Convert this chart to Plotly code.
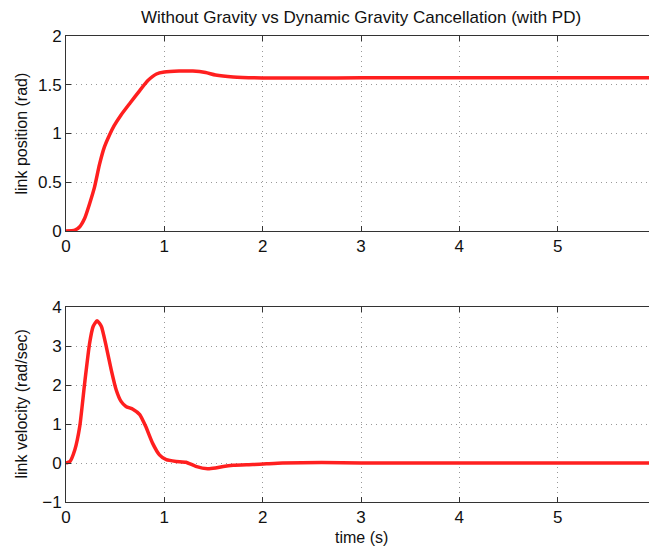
import plotly.graph_objects as go
from plotly.subplots import make_subplots

# Position data (time in s, position in rad)
t_pos = [0, 0.09, 0.14, 0.19, 0.24, 0.29, 0.34, 0.39, 0.44, 0.49, 0.56, 0.65, 0.75, 0.83, 0.92, 1.0, 1.15, 1.29, 1.42, 1.52, 1.7, 2.0, 2.5, 3.0, 4.0, 5.0, 6.0]
pos = [0, 0.01, 0.044, 0.13, 0.28, 0.45, 0.68, 0.86, 0.98, 1.08, 1.19, 1.31, 1.44, 1.54, 1.61, 1.63, 1.64, 1.64, 1.625, 1.60, 1.58, 1.57, 1.568, 1.571, 1.571, 1.571, 1.571]

# Velocity data (time in s, velocity in rad/sec)
t_vel = [0, 0.04, 0.09, 0.14, 0.19, 0.24, 0.276, 0.316, 0.36, 0.41, 0.46, 0.51, 0.56, 0.61, 0.68, 0.75, 0.81, 0.88, 0.95, 1.02, 1.12, 1.22, 1.32, 1.44, 1.52, 1.6, 1.70, 1.9, 2.04, 2.2, 2.6, 3.0, 4.0, 5.0, 6.0]
vel = [0, 0.04, 0.34, 0.94, 2.05, 3.07, 3.5, 3.65, 3.5, 2.98, 2.39, 1.88, 1.58, 1.45, 1.38, 1.24, 0.94, 0.51, 0.21, 0.085, 0.04, 0.02, -0.085, -0.15, -0.13, -0.09, -0.06, -0.04, -0.02, 0.0, 0.01, 0.0, 0.0, 0.0, 0.0]

x_ticks = [0, 1, 2, 3, 4, 5, 6]
pos_ticks = [0, 0.5, 1, 1.5, 2]
pos_ticktext = ["0", "0.5", "1", "1.5", "2"]
vel_ticks = [-1, 0, 1, 2, 3, 4]
vel_ticktext = ["\u22121", "0", "1", "2", "3", "4"]

# The page body has an 8px margin, so the figure is drawn 8px lower/right;
# size and margins below compensate for that offset.
W, H = 649, 539
mt, mb, ml, mr = 28, 45, 58, 1
plot_h = H - mt - mb
plot_w = W - ml - mr

fig = make_subplots(rows=2, cols=1)
red = "#ff1f1f"
fig.add_trace(go.Scatter(x=t_pos, y=pos, mode="lines", line=dict(color=red, width=3.5, shape="spline", smoothing=0.5), showlegend=False), row=1, col=1)
fig.add_trace(go.Scatter(x=t_vel, y=vel, mode="lines", line=dict(color=red, width=3.5, shape="spline", smoothing=0.5), showlegend=False), row=2, col=1)

font = "Liberation Sans, Arial, Helvetica, sans-serif"
txt = "#111"
axis_common = dict(
    showline=True, linecolor="#333", linewidth=1, mirror="ticks",
    ticks="inside", ticklen=5, tickcolor="#333",
    showgrid=True, gridcolor="#999", griddash="1px,4px", gridwidth=1,
    zeroline=False, automargin=False, ticklabeloverflow="allow",
    tickfont=dict(size=17, color=txt, family=font),
)

# pixel rows (figure coords) of the axes boxes
top_y0, top_y1 = 28, 223
bot_y0, bot_y1 = 299, 494
top_dom = [(H - mb - top_y1) / plot_h, (H - mb - top_y0) / plot_h]
bot_dom = [(H - mb - bot_y1) / plot_h, (H - mb - bot_y0) / plot_h]

fig.update_xaxes(range=[0, 6], tickvals=x_ticks, **axis_common)
fig.update_yaxes(row=1, col=1, domain=top_dom, range=[0, 2], tickvals=pos_ticks, ticktext=pos_ticktext, **axis_common)
fig.update_yaxes(row=2, col=1, domain=bot_dom, range=[-1, 4], tickvals=vel_ticks, ticktext=vel_ticktext, **axis_common)

lab_font = dict(size=16, family=font, color=txt)
fig.add_annotation(text="link position (rad)", xref="paper", yref="paper", x=(13 - ml) / plot_w,
                   y=(H - mb - (top_y0 + top_y1) / 2) / plot_h, textangle=-90, showarrow=False, font=lab_font,
                   xanchor="center", yanchor="middle")
fig.add_annotation(text="link velocity (rad/sec)", xref="paper", yref="paper", x=(13 - ml) / plot_w,
                   y=(H - mb - (bot_y0 + bot_y1) / 2) / plot_h, textangle=-90, showarrow=False, font=lab_font,
                   xanchor="center", yanchor="middle")
fig.add_annotation(text="time (s)", xref="paper", yref="paper", x=0.5,
                   y=(H - mb - 529) / plot_h, showarrow=False, font=lab_font,
                   xanchor="center", yanchor="middle")

fig.update_layout(
    width=W, height=H,
    margin=dict(l=ml, r=mr, t=mt, b=mb),
    paper_bgcolor="white", plot_bgcolor="white",
    title=dict(text="Without Gravity vs Dynamic Gravity Cancellation (with PD)", x=(ml + W - mr) / 2 / W, xanchor="center",
               y=1 - 9 / H, yanchor="middle", yref="container", font=dict(size=17, family=font, color=txt)),
    font=dict(family=font),
)

fig.write_html("out.html")
